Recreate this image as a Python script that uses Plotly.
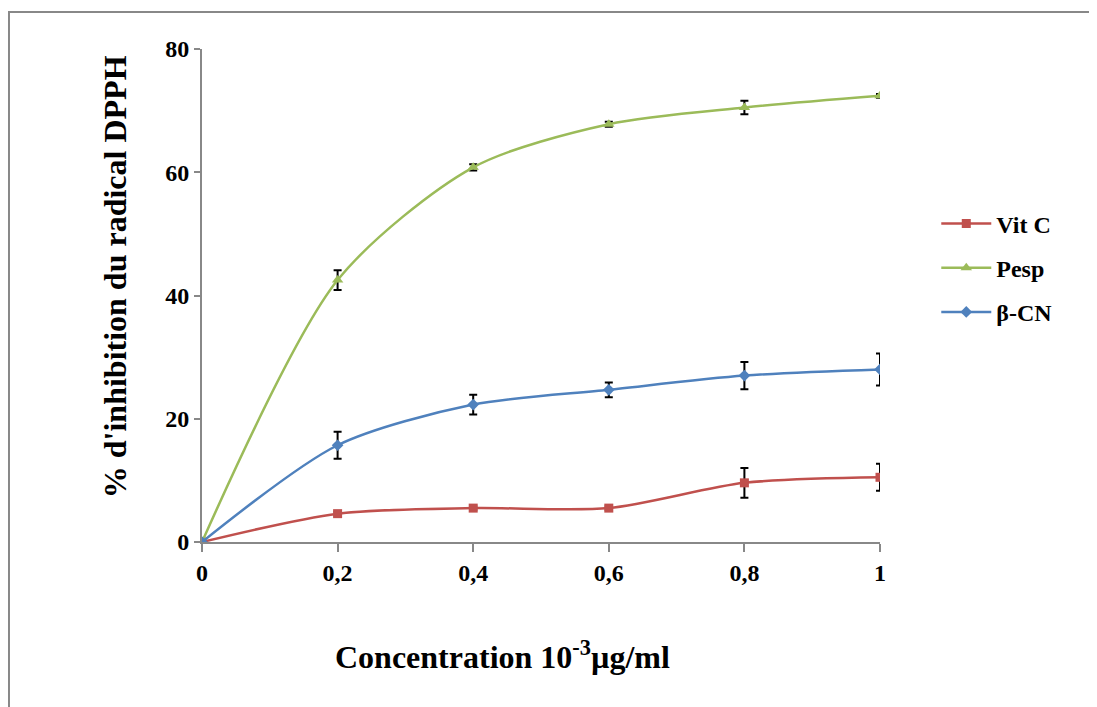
import plotly.graph_objects as go

x_vals = [0, 0.2, 0.4, 0.6, 0.8, 1.0]
x_ticktext = ["0", "0,2", "0,4", "0,6", "0,8", "1"]
y_ticks = [0, 20, 40, 60, 80]

vitc = [0, 4.6, 5.5, 5.5, 9.6, 10.5]
vitc_err = [0, 0.3, 0.3, 0.3, 2.4, 2.2]
pesp = [0, 42.5, 60.8, 67.8, 70.5, 72.4]
pesp_err = [0, 1.6, 0.5, 0.4, 1.1, 0.3]
bcn = [0, 15.7, 22.3, 24.7, 27.0, 28.0]
bcn_err = [0, 2.2, 1.6, 1.2, 2.2, 2.6]

series = [
    ("Vit C", vitc, vitc_err, "#C0504D", "square", 9),
    ("Pesp", pesp, pesp_err, "#9BBB59", "triangle-up", 10),
    ("β-CN", bcn, bcn_err, "#4F81BD", "diamond", 9),
]

fig = go.Figure()
for name, y, err, color, sym, size in series:
    fig.add_trace(go.Scatter(
        x=x_vals, y=y, name=name, mode="lines+markers", legendgroup=name,
        line=dict(color=color, width=2.5, shape="spline", smoothing=0.8),
        marker=dict(symbol=sym, size=size, color=color),
        error_y=dict(type="data", array=err, visible=True, color="black",
                     thickness=2, width=4),
    ))

font_family = "Liberation Serif, Times New Roman, serif"

fig.update_layout(
    width=1097, height=707,
    margin=dict(l=194, r=225, t=41, b=173),
    paper_bgcolor="white", plot_bgcolor="white",
    font=dict(family=font_family, color="black", size=20),
    showlegend=True,
    legend=dict(x=1.083, y=0.556, xanchor="left", yanchor="middle",
                font=dict(family=font_family, size=24, color="black", weight="bold"),
                tracegroupgap=10, itemwidth=50),
    xaxis=dict(
        range=[0, 1], tickvals=x_vals, ticktext=x_ticktext,
        showgrid=False, zeroline=False, showline=True, linecolor="#888888",
        linewidth=2, ticks="outside", ticklen=8, tickcolor="#888888", tickwidth=2,
        tickfont=dict(family=font_family, size=24, color="black", weight="bold"),
    ),
    yaxis=dict(
        range=[0, 80], tickvals=y_ticks,
        showgrid=False, zeroline=False, showline=True, linecolor="#888888",
        linewidth=2, ticks="outside", ticklen=6, tickcolor="#888888", tickwidth=2,
        tickfont=dict(family=font_family, size=24, color="black", weight="bold"),
    ),
    annotations=[
        dict(text="<b>Concentration 10<sup>-3</sup>µg/ml</b>", xref="paper", yref="paper",
             x=0.4425, y=-0.229, xanchor="center", yanchor="middle", showarrow=False,
             font=dict(family=font_family, size=32, color="black")),
        dict(text="<b>% d'inhibition du radical DPPH</b>", xref="paper", yref="paper",
             x=-0.128, y=0.5375, xanchor="center", yanchor="middle", showarrow=False,
             textangle=-90, font=dict(family=font_family, size=32, color="black")),
    ],
    shapes=[dict(type="rect", xref="paper", yref="paper",
                 x0=-0.2847, x1=1.4, y0=-0.5, y1=1.075,
                 line=dict(color="#888888", width=2))],
)

fig.write_html("out.html")
